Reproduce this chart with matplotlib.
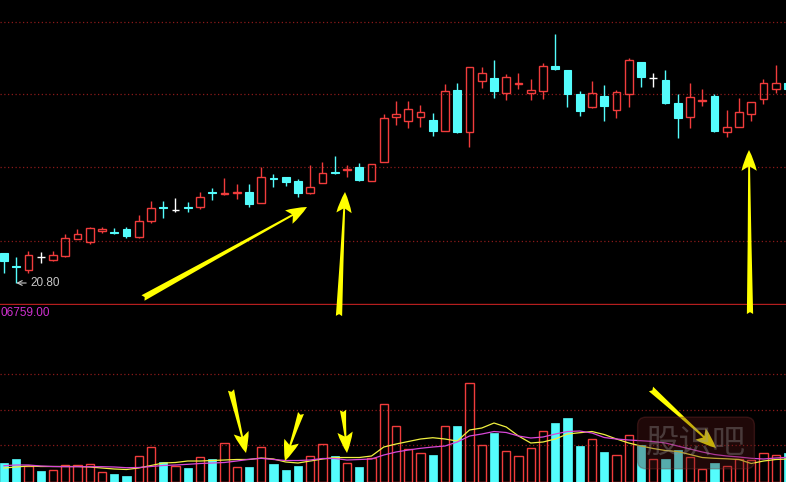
import matplotlib
matplotlib.use('Agg')
import matplotlib.pyplot as plt
from matplotlib.patches import Rectangle, FancyArrowPatch
import numpy as np

# daily OHLC
opens = [21.10, 20.97, 20.93, 21.06, 21.03, 21.07, 21.24, 21.21, 21.32, 21.31,
         21.34, 21.26, 21.42, 21.56, 21.53, 21.56, 21.56, 21.71, 21.69, 21.70,
         21.71, 21.60, 21.85, 21.86, 21.82, 21.70, 21.80, 21.91, 21.93, 21.96,
         21.82, 22.01, 22.46, 22.42, 22.46, 22.43, 22.32, 22.73, 22.31, 22.82,
         22.85, 22.70, 22.79, 22.70, 22.72, 22.97, 22.93, 22.69, 22.56, 22.67,
         22.53, 22.69, 23.01, 22.85, 22.83, 22.60, 22.46, 22.62, 22.67, 22.31,
         22.36, 22.49, 22.64, 22.74, 22.80]
highs = [21.10, 21.06, 21.12, 21.11, 21.12, 21.29, 21.34, 21.36, 21.36, 21.35,
         21.36, 21.48, 21.62, 21.62, 21.65, 21.61, 21.71, 21.75, 21.85, 21.79,
         21.79, 21.96, 21.89, 21.86, 21.84, 21.98, 22.01, 22.07, 21.98, 22.00,
         21.99, 22.49, 22.62, 22.62, 22.58, 22.50, 22.79, 22.80, 22.96, 22.96,
         23.03, 22.89, 22.90, 22.84, 23.00, 23.29, 22.93, 22.72, 22.82, 22.78,
         22.73, 23.05, 23.01, 22.90, 22.93, 22.69, 22.80, 22.74, 22.69, 22.53,
         22.65, 22.61, 22.84, 22.98, 22.80]
lows = [20.90, 20.80, 20.90, 21.00, 21.02, 21.06, 21.24, 21.19, 21.30, 21.29,
        21.25, 21.25, 21.40, 21.45, 21.51, 21.51, 21.54, 21.63, 21.68, 21.64,
        21.56, 21.60, 21.76, 21.77, 21.66, 21.69, 21.80, 21.89, 21.86, 21.82,
        21.82, 22.01, 22.38, 22.35, 22.36, 22.27, 22.32, 22.30, 22.16, 22.75,
        22.65, 22.63, 22.74, 22.63, 22.64, 22.93, 22.56, 22.47, 22.55, 22.42,
        22.45, 22.56, 22.76, 22.76, 22.59, 22.25, 22.35, 22.57, 22.31, 22.26,
        22.36, 22.42, 22.59, 22.70, 22.74]
closes = [21.02, 20.96, 21.08, 21.06, 21.08, 21.25, 21.29, 21.35, 21.34, 21.30,
          21.27, 21.42, 21.55, 21.55, 21.53, 21.55, 21.66, 21.70, 21.70, 21.71,
          21.59, 21.86, 21.84, 21.81, 21.70, 21.76, 21.90, 21.90, 21.94, 21.83,
          21.99, 22.45, 22.49, 22.54, 22.51, 22.32, 22.72, 22.31, 22.96, 22.90,
          22.72, 22.86, 22.80, 22.73, 22.97, 22.94, 22.69, 22.52, 22.70, 22.57,
          22.71, 23.03, 22.86, 22.85, 22.60, 22.45, 22.66, 22.63, 22.32, 22.36,
          22.51, 22.61, 22.80, 22.80, 22.74]

volumes = [11600, 13900, 9800, 6800, 7200, 10300, 10300, 10700, 5800, 4800,
           3600, 15700, 20900, 11900, 9600, 8600, 14900, 13900, 23300, 8900,
           9200, 20900, 10900, 7200, 9600, 15900, 22700, 15700, 11300, 8900,
           14300, 47000, 33800, 19900, 17300, 16300, 33800, 34000, 59500, 22300,
           29700, 18700, 15700, 20500, 30800, 35800, 38600, 21700, 25900, 18300,
           16300, 28300, 22300, 13700, 13700, 19300, 15100, 7700, 11300, 9800,
           13900, 13300, 17700, 16300, 17500]
vol_up = [0, 0, 1, 0, 1, 1, 1, 1, 1, 0,
          0, 1, 1, 0, 1, 0, 1, 0, 1, 1,
          0, 1, 0, 0, 0, 1, 1, 0, 1, 0,
          1, 1, 1, 1, 1, 0, 1, 0, 1, 1,
          0, 1, 1, 1, 1, 0, 0, 0, 1, 0,
          1, 1, 0, 1, 0, 0, 1, 1, 0, 1,
          1, 1, 1, 1, 0]
ma5 = [8440, 9050, 9650, 9350, 9350, 9350, 9350, 9050, 8440, 7840,
       7540, 8440, 9950, 11460, 11760, 12660, 12660, 12960, 13270, 13570,
       13570, 14470, 13870, 12060, 11460, 12660, 13870, 14770, 14770, 14770,
       15680, 21100, 22900, 24420, 25930, 26710, 25930, 24720, 31360, 32560,
       35580, 33170, 27740, 23520, 24120, 25930, 28940, 29730, 30450, 28640,
       25930, 23520, 21710, 20200, 18990, 18390, 16580, 14770, 14290, 13990,
       13570, 11160, 12660, 13570, 13870]
ma10 = [9830, 10250, 10250, 9650, 9350, 9230, 9230, 9230, 9230, 9050,
        8620, 8740, 9350, 9950, 10250, 10670, 11160, 11460, 11760, 12660,
        13690, 14290, 13570, 12960, 12960, 13270, 14170, 14170, 13270, 13570,
        13870, 16280, 18090, 19300, 20320, 21100, 21710, 24120, 27740, 28940,
        30450, 29850, 27740, 26530, 27140, 28940, 30450, 30750, 29550, 26830,
        25930, 25330, 24900, 24420, 23520, 21710, 19900, 18090, 16580, 15680,
        15080, 14290, 13870, 14470, 14890]

low_label = "20.80"
vol_label = "06759.00"
vol_top = 106759.0

# yellow hand-drawn arrows (tail, tip) in picture pixels from top-left
arrows = [((143, 298), (307, 207)),
          ((339, 316), (345, 192)),
          ((750, 314), (749, 150)),
          ((231, 390), (246, 453)),
          ((301, 413), (285, 461)),
          ((343, 410), (347, 453)),
          ((651, 389), (716, 448))]

RED = '#F03C3C'
CYAN = '#54FCFC'
WHITE = '#FFFFFF'
GRID = '#8B1A1A'

W, H = 786, 482
n = len(opens)
x = np.arange(n)
bw = 0.65

fig = plt.figure(figsize=(W / 100, H / 100), dpi=100, facecolor='black')
ax = fig.add_axes([0, 178 / H, 1, 304 / H])
axv = fig.add_axes([0, 0, 1, 177 / H])

for a in (ax, axv):
    a.set_facecolor('black')
    a.set_xlim(-4 / 12.25, 782 / 12.25)
    a.tick_params(left=False, bottom=False, labelleft=False, labelbottom=False)
    for s in a.spines.values():
        s.set_visible(False)

ax.set_ylim(20.59, 23.63)
axv.set_ylim(0, vol_top)

# dotted grid
ax.set_yticks([21.22, 21.96, 22.69, 23.41])
axv.set_yticks([22320, 43430, 65140])
for a in (ax, axv):
    a.yaxis.grid(True, color=GRID, linestyle=(0, (1, 2)), linewidth=0.9)
    a.set_axisbelow(True)

ax.spines['bottom'].set_visible(True)
ax.spines['bottom'].set_color('#B41E1E')
ax.spines['bottom'].set_linewidth(1.0)

# candles
for i in range(n):
    o, h, l, c = opens[i], highs[i], lows[i], closes[i]
    if c > o:
        ax.vlines(i, c, h, color=RED, lw=1)
        ax.vlines(i, l, o, color=RED, lw=1)
        ax.add_patch(Rectangle((i - bw / 2, o), bw, c - o, fill=False,
                               edgecolor=RED, lw=1))
    elif c < o:
        ax.vlines(i, l, h, color=CYAN, lw=1)
        ax.add_patch(Rectangle((i - bw / 2, c), bw, o - c, facecolor=CYAN,
                               edgecolor=CYAN, lw=0.8))
    else:
        ax.vlines(i, l, h, color=WHITE, lw=1)
        ax.hlines(o, i - bw / 2, i + bw / 2, color=WHITE, lw=1)

# lowest price marker
imin = int(np.argmin(lows))
ax.annotate(low_label, xy=(imin, lows[imin]), xytext=(imin + 1.15, lows[imin]),
            va='center', ha='left', color='#C8C8C8', fontsize=8.5,
            family='Liberation Sans',
            arrowprops=dict(arrowstyle='->', color='#C8C8C8', lw=0.8,
                            shrinkA=1, shrinkB=0))

# volume bars
vbw = 0.68
for i in range(n):
    if vol_up[i]:
        axv.add_patch(Rectangle((i - vbw / 2, 0), vbw, volumes[i], fill=False,
                                edgecolor=RED, lw=1))
    else:
        axv.add_patch(Rectangle((i - vbw / 2, 0), vbw, volumes[i],
                                facecolor=CYAN, edgecolor=CYAN, lw=0.5))

axv.plot(x, ma5, color='#F0F040', lw=0.9)
axv.plot(x, ma10, color='#D848D8', lw=0.9)

fig.text(0.5 / W, (H - 313) / H, vol_label, color='#D030D0', fontsize=8.5,
         family='Liberation Sans', va='center', ha='left')

# watermark
fig.text(696 / W, (H - 443) / H, '股识吧', color='#9a9a9a', alpha=0.35,
         fontsize=24, family=['Noto Sans CJK SC', 'DejaVu Sans'],
         ha='center', va='center',
         bbox=dict(boxstyle='round,pad=0.25', facecolor='#5a1818',
                   edgecolor='#7a3030', alpha=0.35))

for (tx, ty), (hx, hy) in arrows:
    fig.add_artist(FancyArrowPatch(
        (tx, H - ty), (hx, H - hy), transform=None,
        arrowstyle='fancy,head_length=1.5,head_width=1.1,tail_width=0.45',
        mutation_scale=10, color='#FFFF00', shrinkA=0, shrinkB=0, lw=0))

fig.savefig('out.png', dpi=100, facecolor='black')
